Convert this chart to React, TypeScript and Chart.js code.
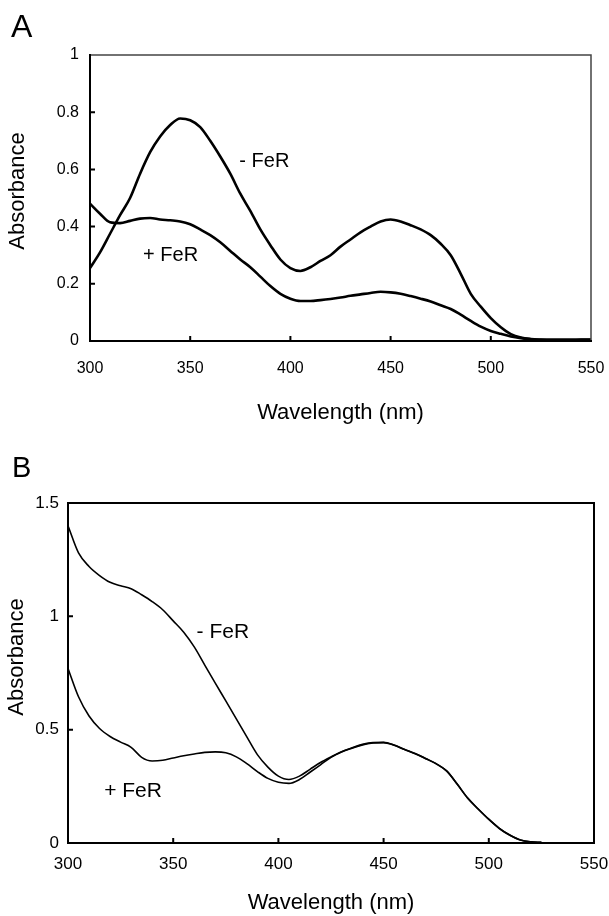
import React, { useEffect, useRef } from "react";
import { Chart, registerables } from "chart.js";

Chart.register(...registerables);

// ---------- Data ----------
const wavelengthsA = [
  300, 305, 310, 315, 320, 325, 330, 335, 340, 345, 350, 355, 360, 365, 370, 375, 380, 385, 390, 395,
  400, 405, 410, 415, 420, 425, 430, 435, 440, 445, 450, 455, 460, 465, 470, 475, 480, 485, 490, 495,
  500, 505, 510, 515, 520, 525, 530, 535, 540, 545, 550,
];
const minusFeRA = [
  0.255, 0.31, 0.375, 0.44, 0.5, 0.585, 0.66, 0.715, 0.755, 0.778, 0.772, 0.748, 0.7, 0.645, 0.585, 0.515, 0.455, 0.39, 0.335, 0.285,
  0.255, 0.245, 0.258, 0.28, 0.3, 0.33, 0.355, 0.38, 0.4, 0.418, 0.425, 0.418, 0.405, 0.39, 0.37, 0.34, 0.3, 0.235, 0.165, 0.12,
  0.08, 0.048, 0.024, 0.012, 0.007, 0.005, 0.004, 0.004, 0.004, 0.005, 0.005,
];
const plusFeRA = [
  0.48, 0.445, 0.415, 0.412, 0.42, 0.428, 0.43, 0.425, 0.422, 0.418, 0.408, 0.39, 0.37, 0.345, 0.315, 0.285, 0.258, 0.225, 0.192, 0.165,
  0.148, 0.14, 0.14, 0.143, 0.147, 0.152, 0.158, 0.163, 0.168, 0.172, 0.17, 0.165, 0.157, 0.148, 0.138, 0.125, 0.112, 0.092, 0.07, 0.05,
  0.035, 0.025, 0.016, 0.01, 0.006, 0.004, 0.004, 0.004, 0.004, 0.004, 0.004,
];

const wavelengthsB = [
  300, 305, 310, 315, 320, 325, 330, 335, 340, 345, 350, 355, 360, 365, 370, 375, 380, 385, 390, 395,
  400, 405, 410, 415, 420, 425, 430, 435, 440, 445, 450, 455, 460, 465, 470, 475, 480, 485, 490, 495,
  500, 505, 510, 515, 520, 525,
];
const minusFeRB = [
  1.4, 1.28, 1.22, 1.18, 1.15, 1.135, 1.122, 1.095, 1.065, 1.029, 0.98, 0.93, 0.865, 0.785, 0.705, 0.627, 0.548, 0.468, 0.39, 0.335,
  0.295, 0.28, 0.295, 0.325, 0.355, 0.38, 0.403, 0.42, 0.435, 0.443, 0.444, 0.432, 0.413, 0.395, 0.373, 0.35, 0.318, 0.26, 0.198, 0.15,
  0.105, 0.065, 0.035, 0.013, 0.005, 0.003,
];
const plusFeRB = [
  0.77, 0.645, 0.56, 0.505, 0.47, 0.445, 0.422, 0.378, 0.362, 0.365, 0.375, 0.385, 0.393, 0.4, 0.402, 0.398, 0.38, 0.35, 0.315, 0.285,
  0.268, 0.263, 0.28, 0.312, 0.345, 0.378, 0.401, 0.418, 0.433, 0.441, 0.443, 0.431, 0.412, 0.394, 0.372, 0.349, 0.317, 0.259, 0.197, 0.149,
  0.104, 0.064, 0.034, 0.013, 0.005, 0.003,
];

const xTicks = [300, 350, 400, 450, 500, 550];
const yTicksA = [0, 0.2, 0.4, 0.6, 0.8, 1];
const yTicksB = [0, 0.5, 1, 1.5];

const FONT = "'Liberation Sans', Arial, Helvetica, sans-serif";

// ---------- Plugin for box, inward ticks and text labels ----------
const decorPlugin = {
  id: "panelDecor",
  afterDraw(chart: any, _args: any, opts: any) {
    const { ctx, chartArea: ca, scales } = chart;
    const xs = scales.x;
    const ys = scales.y;
    ctx.save();
    ctx.lineCap = "square";
    ctx.strokeStyle = opts.boxColor;
    ctx.lineWidth = opts.boxWidth;
    ctx.beginPath();
    ctx.moveTo(ca.left, ca.top);
    ctx.lineTo(ca.right, ca.top);
    ctx.lineTo(ca.right, ca.bottom);
    ctx.stroke();
    ctx.strokeStyle = "#000";
    ctx.lineWidth = opts.axisWidth;
    ctx.beginPath();
    ctx.moveTo(ca.left, ca.top);
    ctx.lineTo(ca.left, ca.bottom);
    ctx.lineTo(ca.right, ca.bottom);
    ctx.stroke();
    ctx.lineWidth = opts.tickWidth;
    ctx.lineCap = "butt";
    ctx.beginPath();
    xs.ticks.forEach((t: any) => {
      if (t.value > xs.min && t.value < xs.max) {
        const px = xs.getPixelForValue(t.value);
        ctx.moveTo(px, ca.bottom);
        ctx.lineTo(px, ca.bottom - opts.tickLen);
      }
    });
    ys.ticks.forEach((t: any) => {
      if (t.value > ys.min && t.value < ys.max) {
        const py = ys.getPixelForValue(t.value);
        ctx.moveTo(ca.left, py);
        ctx.lineTo(ca.left + opts.tickLen, py);
      }
    });
    ctx.stroke();

    ctx.fillStyle = "#000";
    ctx.font = `${opts.letterSize}px ${FONT}`;
    ctx.textAlign = "left";
    ctx.textBaseline = "alphabetic";
    ctx.fillText(opts.letter, opts.letterX, opts.letterY);

    ctx.save();
    ctx.font = `${opts.yTitleSize}px ${FONT}`;
    ctx.translate(opts.yTitleX, opts.yTitleY);
    ctx.rotate(-Math.PI / 2);
    ctx.textAlign = "center";
    ctx.textBaseline = "middle";
    ctx.fillText(opts.yTitle, 0, 0);
    ctx.restore();

    ctx.font = `${opts.labelSize}px ${FONT}`;
    ctx.textAlign = "center";
    ctx.textBaseline = "middle";
    opts.labels.forEach((l: any) => {
      ctx.fillText(l.text, xs.getPixelForValue(l.x), ys.getPixelForValue(l.y));
    });
    ctx.restore();
  },
};

function toPoints(xs: number[], ys: number[]) {
  return xs.map((x, i) => ({ x, y: ys[i] }));
}

type PanelSpec = {
  height: number;
  padTop: number;
  padRight: number;
  yWidth: number;
  xHeight: number;
  yMax: number;
  yTicks: number[];
  tickSize: number;
  xTickPad: number;
  yTickPad: number;
  xTitlePadBottom: number;
  lineWidth: number;
  series: { x: number[]; y: number[] }[];
  decor: any;
};

function Panel({ spec }: { spec: PanelSpec }) {
  const ref = useRef<HTMLCanvasElement | null>(null);
  useEffect(() => {
    if (!ref.current) return;
    const chart = new Chart(ref.current, {
      type: "line",
      data: {
        datasets: spec.series.map((s) => ({
          data: toPoints(s.x, s.y),
          borderColor: "#000",
          borderWidth: spec.lineWidth,
          pointRadius: 0,
          cubicInterpolationMode: "monotone",
          fill: false,
        })),
      },
      options: {
        responsive: false,
        animation: false,
        devicePixelRatio: 1,
        layout: { padding: { top: spec.padTop, right: spec.padRight, left: 0, bottom: 0 } },
        plugins: {
          legend: { display: false },
          tooltip: { enabled: false },
          panelDecor: spec.decor,
        } as any,
        scales: {
          x: {
            type: "linear",
            min: 300,
            max: 550,
            afterBuildTicks: (s: any) => {
              s.ticks = xTicks.map((v) => ({ value: v }));
            },
            afterFit: (s: any) => {
              s.height = spec.xHeight;
              s.paddingLeft = 0;
              s.paddingRight = 0;
            },
            grid: { display: false, drawTicks: false },
            border: { display: false },
            ticks: {
              font: { family: FONT, size: spec.tickSize },
              color: "#000",
              padding: spec.xTickPad,
              maxRotation: 0,
              autoSkip: false,
              callback: (v: any) => String(v),
            },
            title: {
              display: true,
              text: "Wavelength (nm)",
              color: "#000",
              font: { family: FONT, size: 22 },
              padding: { top: 0, bottom: spec.xTitlePadBottom },
            },
          },
          y: {
            type: "linear",
            min: 0,
            max: spec.yMax,
            afterBuildTicks: (s: any) => {
              s.ticks = spec.yTicks.map((v) => ({ value: v }));
            },
            afterFit: (s: any) => {
              s.width = spec.yWidth;
              s.paddingTop = 0;
              s.paddingBottom = 0;
            },
            grid: { display: false, drawTicks: false },
            border: { display: false },
            ticks: {
              font: { family: FONT, size: spec.tickSize },
              color: "#000",
              padding: spec.yTickPad,
              callback: (v: any) => String(Math.round(v * 10) / 10),
            },
          },
        },
      },
      plugins: [decorPlugin],
    } as any);
    return () => chart.destroy();
  }, [spec]);
  return <canvas ref={ref} width={609} height={spec.height} style={{ display: "block" }} />;
}

const specA: PanelSpec = {
  height: 440,
  padTop: 55,
  padRight: 18,
  yWidth: 90,
  xHeight: 99,
  yMax: 1,
  yTicks: yTicksA,
  tickSize: 16,
  xTickPad: 18,
  yTickPad: 11,
  xTitlePadBottom: 14,
  lineWidth: 2.6,
  series: [
    { x: wavelengthsA, y: minusFeRA },
    { x: wavelengthsA, y: plusFeRA },
  ],
  decor: {
    boxColor: "#444",
    boxWidth: 1.5,
    axisWidth: 2,
    tickWidth: 2,
    tickLen: 5,
    letter: "A",
    letterSize: 32,
    letterX: 11,
    letterY: 37,
    yTitle: "Absorbance",
    yTitleSize: 22,
    yTitleX: 18,
    yTitleY: 191,
    labelSize: 20,
    labels: [
      { text: "- FeR", x: 387, y: 0.627 },
      { text: "+ FeR", x: 340.2, y: 0.299 },
    ],
  },
};

const specB: PanelSpec = {
  height: 476,
  padTop: 63,
  padRight: 15,
  yWidth: 68,
  xHeight: 73,
  yMax: 1.5,
  yTicks: yTicksB,
  tickSize: 17,
  xTickPad: 11,
  yTickPad: 9,
  xTitlePadBottom: 0,
  lineWidth: 1.6,
  series: [
    { x: wavelengthsB, y: minusFeRB },
    { x: wavelengthsB, y: plusFeRB },
  ],
  decor: {
    boxColor: "#000",
    boxWidth: 2,
    axisWidth: 2,
    tickWidth: 2,
    tickLen: 5,
    letter: "B",
    letterSize: 29,
    letterX: 12,
    letterY: 37,
    yTitle: "Absorbance",
    yTitleSize: 22,
    yTitleX: 17,
    yTitleY: 217,
    labelSize: 21,
    labels: [
      { text: "- FeR", x: 373.6, y: 0.931 },
      { text: "+ FeR", x: 330.9, y: 0.228 },
    ],
  },
};

export default function App() {
  useEffect(() => {
    document.body.style.margin = "0";
    document.body.style.overflow = "hidden";
    document.body.style.background = "#fff";
  }, []);
  return (
    <div style={{ width: 609, height: 916, background: "#fff" }}>
      <Panel spec={specA} />
      <Panel spec={specB} />
    </div>
  );
}
